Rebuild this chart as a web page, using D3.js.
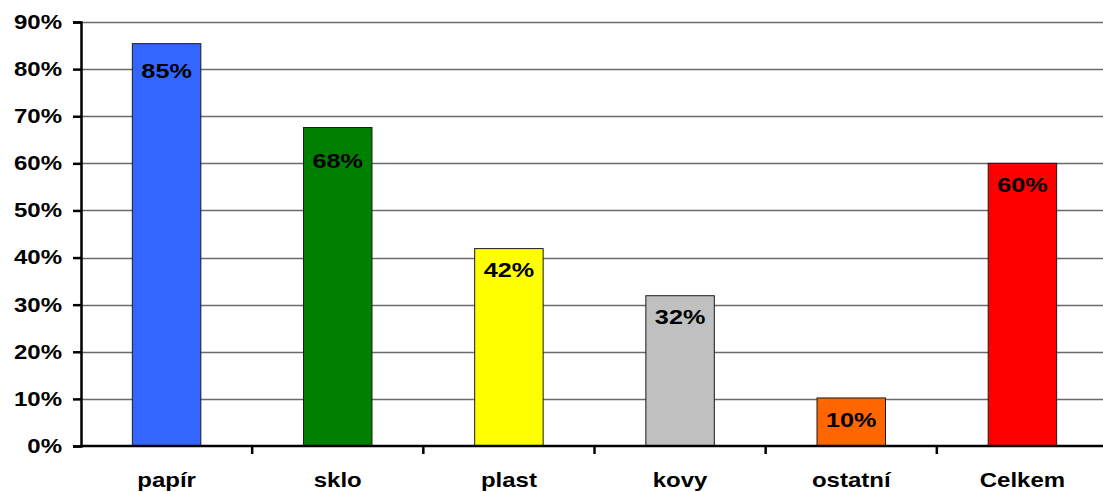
<!DOCTYPE html>
<html>
<head>
<meta charset="utf-8">
<script src="https://cdn.jsdelivr.net/npm/d3@7"></script>
<style>
  body { margin: 0; background: #fff; }
  svg { display: block; font-family: "Liberation Sans", Arial, sans-serif; }
</style>
</head>
<body>
<svg></svg>
<script>
// data
const categories = ["papír", "sklo", "plast", "kovy", "ostatní", "Celkem"];
const values = [85.4, 67.6, 41.9, 31.9, 10.2, 60];
const labels = ["85%", "68%", "42%", "32%", "10%", "60%"];
const colors = ["#3366FF", "#008000", "#FFFF00", "#C0C0C0", "#FF6600", "#FF0000"];
const yTicks = [0, 10, 20, 30, 40, 50, 60, 70, 80, 90];

// label drop below bar top (layout, not data)
const labelDrop = [27, 33, 21, 21, 21, 21];
const stretch = 1.2; // text in the original is drawn wide

const W = 1103, H = 492;
const margin = { top: 22, right: -5, bottom: 46, left: 81 };
const width = W - margin.left - margin.right;
const height = H - margin.top - margin.bottom;

const data = categories.map((c, i) => ({ cat: c, value: values[i], label: labels[i], color: colors[i] }));

const x = d3.scaleBand().range([0, width]).domain(categories).paddingInner(0.6).paddingOuter(0.3);
const y = d3.scaleLinear().range([height, 0]).domain([0, 90]);

const svg = d3.select('svg').attr('width', W).attr('height', H)
  .append('g').attr('transform', `translate(${margin.left}, ${margin.top})`);

// gridlines
svg.append('g').selectAll('line').data(yTicks.slice(1)).enter().append('line')
  .attr('x1', 0).attr('x2', width)
  .attr('y1', d => Math.round(y(d)) + 0.5).attr('y2', d => Math.round(y(d)) + 0.5)
  .attr('stroke', '#6a6a6a').attr('stroke-width', 1.3);

// bars
svg.append('g').selectAll('rect').data(data).enter().append('rect')
  .attr('x', d => x(d.cat)).attr('y', d => y(d.value))
  .attr('width', x.bandwidth()).attr('height', d => height - y(d.value))
  .attr('fill', d => d.color).attr('stroke', '#1a1a1a').attr('stroke-width', 1);

// value labels
svg.append('g').selectAll('text').data(data).enter().append('text')
  .attr('transform', (d, i) => `translate(${x(d.cat) + x.bandwidth() / 2}, ${y(d.value) + labelDrop[i]}) scale(${stretch},1)`)
  .attr('dy', '0.36em')
  .attr('text-anchor', 'middle')
  .attr('font-size', 21).attr('font-weight', 'bold').attr('fill', '#000')
  .text(d => d.label);

// y axis
const yAxis = d3.axisLeft(y).tickValues(yTicks).tickSize(8).tickFormat(d => d + '%');
const gy = svg.append('g').call(yAxis);
gy.select('.domain').attr('stroke', '#000').attr('stroke-width', 2.5);
gy.selectAll('.tick line').attr('stroke', '#000').attr('stroke-width', 2.5);
gy.selectAll('text')
  .attr('x', null)
  .attr('transform', `translate(-19,0) scale(${stretch},1)`)
  .attr('font-size', 20).attr('font-weight', 'bold').attr('fill', '#000')
  .attr('font-family', '"Liberation Sans", Arial, sans-serif');

// x axis: line with ticks between categories
const gx = svg.append('g').attr('transform', `translate(0, ${height})`);
gx.append('line').attr('x1', 0).attr('x2', width).attr('y1', 0).attr('y2', 0)
  .attr('stroke', '#000').attr('stroke-width', 2.5);
const step = x.step();
gx.selectAll('line.tk').data(categories.slice(1)).enter().append('line')
  .attr('class', 'tk')
  .attr('x1', (d, i) => (i + 1) * step).attr('x2', (d, i) => (i + 1) * step)
  .attr('y1', 0).attr('y2', 8).attr('stroke', '#000').attr('stroke-width', 2.5);
gx.selectAll('text').data(categories).enter().append('text')
  .attr('transform', d => `translate(${x(d) + x.bandwidth() / 2}, 41) scale(${stretch},1)`)
  .attr('text-anchor', 'middle')
  .attr('font-size', 20).attr('font-weight', 'bold').attr('fill', '#000')
  .text(d => d);
</script>
</body>
</html>
